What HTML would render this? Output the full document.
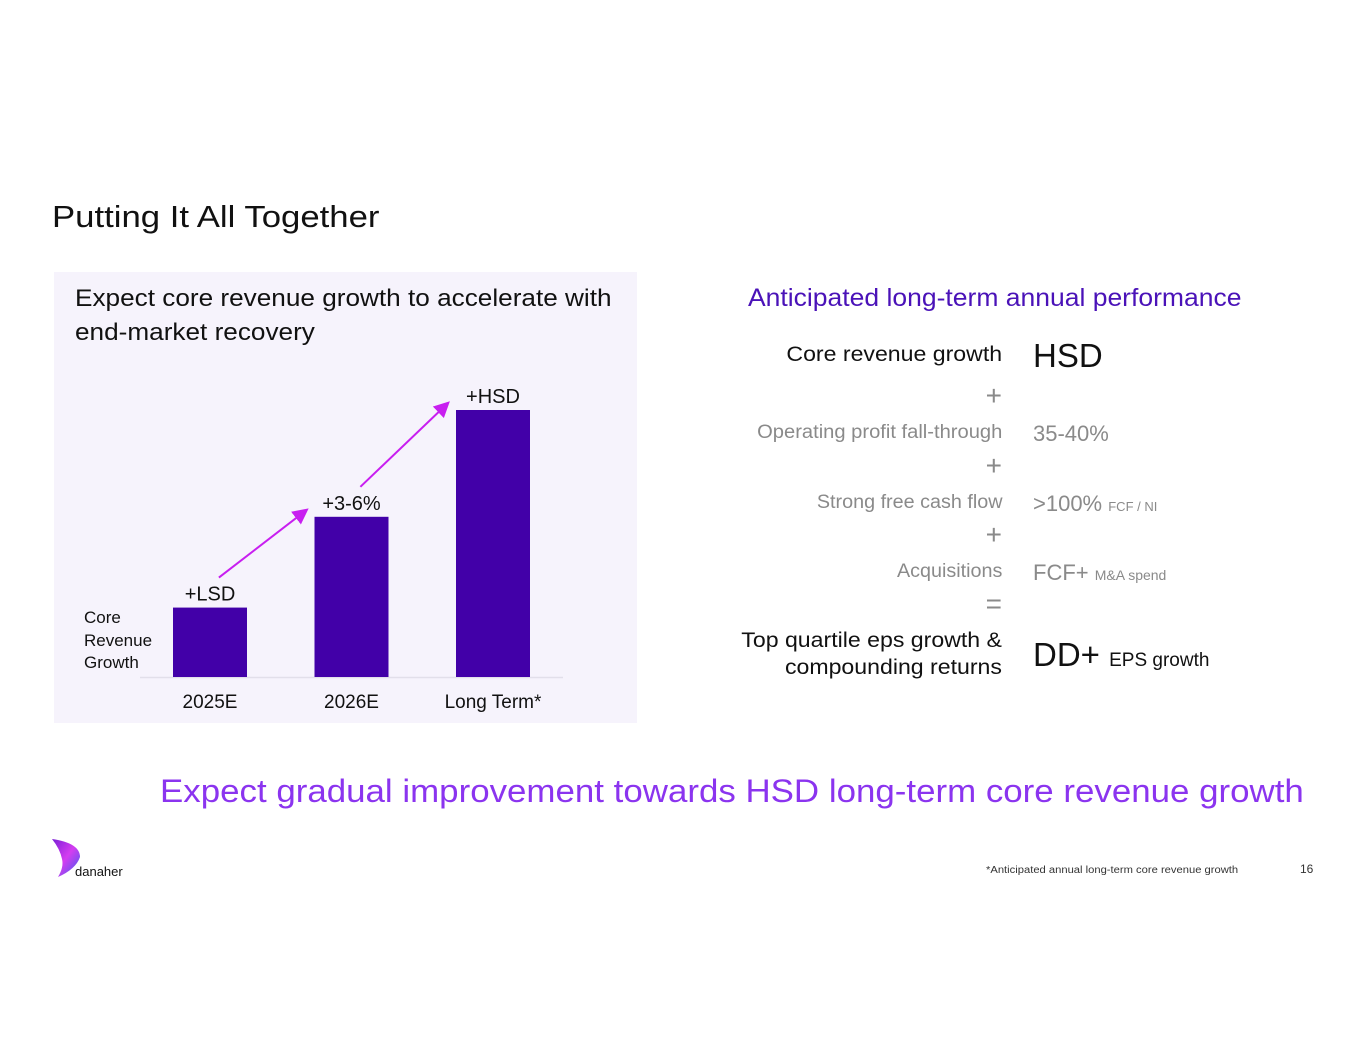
<!DOCTYPE html>
<html><head><meta charset="utf-8"><style>
*{margin:0;padding:0;box-sizing:border-box}
body{width:1365px;height:1055px;background:#fff;font-family:"Liberation Sans",sans-serif;position:relative;overflow:hidden}
.a{position:absolute;white-space:nowrap}
.r{text-align:right;right:363px;transform-origin:right center}
.l{transform-origin:left center}
.g{color:#8a8a8a}
.v{left:1033px}
</style></head><body>
<div class="a l" style="left:52px;top:199px;font-size:31px;color:#111;transform:scaleX(1.12)">Putting It All Together</div>
<div class="a" style="left:54px;top:272px;width:583px;height:451px;background:#f6f3fc"></div>
<div class="a l" style="left:75px;top:282px;font-size:24px;line-height:34px;color:#111;transform:scaleX(1.09)">Expect core revenue growth to accelerate with<br>end-market recovery</div>
<svg class="a" style="left:0;top:0" width="1365" height="1055" id="chart"></svg>
<div class="a" style="left:84px;top:607px;font-size:17px;line-height:22.5px;color:#111">Core<br>Revenue<br>Growth</div>

<div class="a l" style="left:748px;top:284px;font-size:25px;color:#4a12b8;transform:scaleX(1.06)">Anticipated long-term annual performance</div>
<div class="a r" style="top:343px;font-size:21px;color:#111;transform:scaleX(1.1)">Core revenue growth</div>
<div class="a v" style="top:337px;font-size:33px;color:#111">HSD</div>
<div class="a r g" style="top:380px;font-size:28px">+</div>
<div class="a r g" style="top:422px;font-size:19px;transform:scaleX(1.06)">Operating profit fall-through</div>
<div class="a v g" style="top:421px;font-size:22px">35-40%</div>
<div class="a r g" style="top:450px;font-size:28px">+</div>
<div class="a r g" style="top:492px;font-size:19px;transform:scaleX(1.04)">Strong free cash flow</div>
<div class="a v g" style="top:491px;font-size:22px">&gt;100% <span style="font-size:13px">FCF / NI</span></div>
<div class="a r g" style="top:519px;font-size:28px">+</div>
<div class="a r g" style="top:561px;font-size:19px;transform:scaleX(1.04)">Acquisitions</div>
<div class="a v g" style="top:560px;font-size:22px">FCF+ <span style="font-size:14px">M&amp;A spend</span></div>
<div class="a r g" style="top:588px;font-size:28px">=</div>
<div class="a r" style="top:627px;font-size:21px;line-height:27px;color:#111;transform:scaleX(1.1)">Top quartile eps growth &amp;<br>compounding returns</div>
<div class="a v" style="top:636px;font-size:33px;color:#111">DD+ <span style="font-size:19px">EPS growth</span></div>

<div class="a l" style="left:160px;top:773px;font-size:32px;color:#8b34ef;transform:scaleX(1.09)">Expect gradual improvement towards HSD long-term core revenue growth</div>
<svg class="a" style="left:50px;top:837px" width="40" height="42"><defs><linearGradient id="lg" x1="0" y1="0" x2="1" y2="1"><stop offset="0" stop-color="#7a1fd6"/><stop offset=".5" stop-color="#d43df0"/><stop offset="1" stop-color="#3a5cf0"/></linearGradient></defs><path d="M2 2 Q30 6 30 20 Q26 32 8 40 Q14 30 12 22 Q10 12 2 2Z" fill="url(#lg)"/></svg>
<div class="a" style="left:75px;top:864px;font-size:13px;color:#111">danaher</div>
<div class="a l" style="left:986px;top:865px;font-size:10px;color:#333;transform:scaleX(1.12)">*Anticipated annual long-term core revenue growth</div>
<div class="a" style="left:1300px;top:862px;font-size:12px;color:#333">16</div>
<script>
const categories=["2025E","2026E","Long Term*"];
const values=[2.6,6,10];
const valueLabels=["+LSD","+3-6%","+HSD"];
const svg=document.getElementById('chart');
const NS="http://www.w3.org/2000/svg";
const baseY=677, pxPer=26.7, x0=173, step=141.5, bw=74;
const xPos=i=>x0+i*step;
const yPos=v=>baseY-v*pxPer;
function mk(t,a){const e=document.createElementNS(NS,t);for(const k in a)e.setAttribute(k,a[k]);svg.appendChild(e);return e;}
const defs=mk('defs',{});
defs.innerHTML='<marker id="ah" markerWidth="8" markerHeight="8" refX="6" refY="4" orient="auto"><path d="M0,0 L8,4 L0,8Z" fill="#c81ef0"/></marker>';
const ax=mk('line',{x1:140,x2:563,y1:baseY+0.5,y2:baseY+0.5,stroke:'#e2dfea','stroke-width':1.5});


values.forEach((v,i)=>{
 const r=mk('rect',{x:xPos(i),y:yPos(v),width:bw,height:baseY-yPos(v),fill:'#4200a8'});
 
 
 const t=mk('text',{x:xPos(i)+bw/2,y:yPos(v)-7,'text-anchor':'middle','font-size':20,fill:'#111','font-family':'Liberation Sans'});
 t.textContent=valueLabels[i];
 
 
 const c=mk('text',{x:xPos(i)+bw/2,y:708,'text-anchor':'middle','font-size':19,fill:'#111','font-family':'Liberation Sans'});
 c.textContent=categories[i];
 
 
 if(i>0){
  const l=mk('line',{x1:xPos(i-1)+bw*0.62,y1:yPos(values[i-1])-30,x2:xPos(i)-9,y2:yPos(v)-6,stroke:'#c81ef0','stroke-width':2,'marker-end':'url(#ah)'});
  
  
 }
});
</script>
</body></html>
